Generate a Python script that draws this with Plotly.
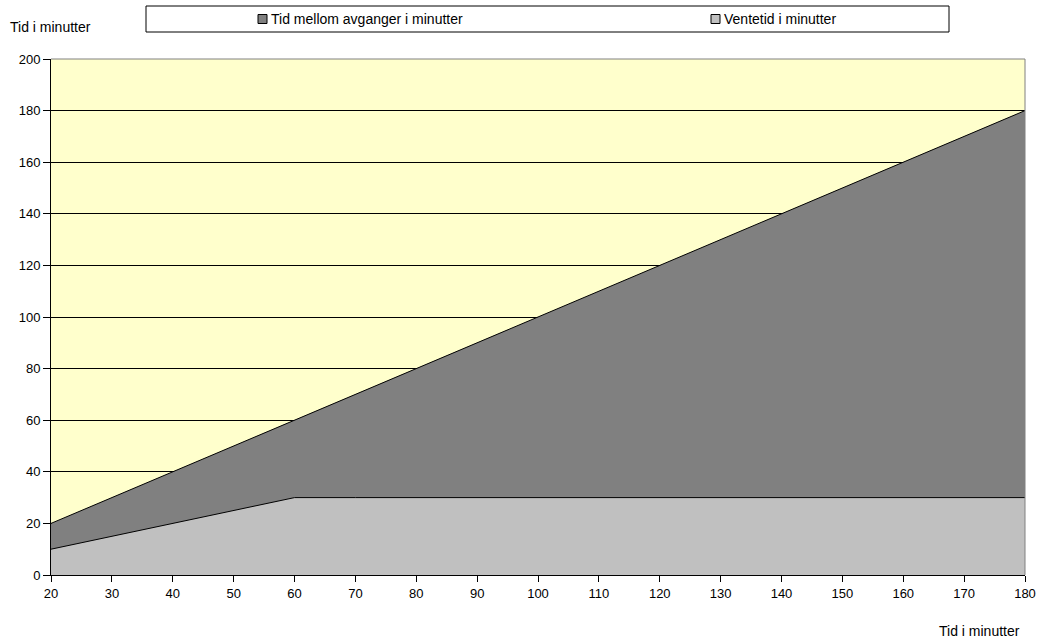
import plotly.graph_objects as go

# Minutes between departures (x axis) and the resulting series
minutes = [20, 30, 40, 50, 60, 70, 80, 90, 100, 110, 120, 130, 140, 150, 160, 170, 180]
tid_mellom = [20, 30, 40, 50, 60, 70, 80, 90, 100, 110, 120, 130, 140, 150, 160, 170, 180]
ventetid = [10, 15, 20, 25, 30, 30, 30, 30, 30, 30, 30, 30, 30, 30, 30, 30, 30]

name_dark = "Tid mellom avganger i minutter"
name_light = "Ventetid i minutter"
axis_title = "Tid i minutter"

FONT = "Liberation Sans, Arial, sans-serif"
W, H = 1038, 639
ML, MR, MT, MB = 51, 13, 59, 64

fig = go.Figure()
fig.add_trace(go.Scatter(
    x=minutes, y=tid_mellom, name=name_dark, mode="lines",
    fill="tozeroy", fillcolor="#808080",
    line=dict(color="black", width=1), showlegend=False,
))
fig.add_trace(go.Scatter(
    x=minutes, y=ventetid, name=name_light, mode="lines",
    fill="tozeroy", fillcolor="#C0C0C0",
    line=dict(color="black", width=1), showlegend=False,
))

fig.update_layout(
    width=W, height=H,
    margin=dict(l=ML, r=MR, t=MT, b=MB, pad=0),
    paper_bgcolor="white",
    plot_bgcolor="#FFFFCC",
    font=dict(family=FONT, size=13, color="black"),
    showlegend=False,
    xaxis=dict(
        range=[20, 180], tickmode="array", tickvals=minutes,
        showgrid=False, zeroline=False, automargin=False,
        showline=True, linecolor="black", linewidth=1,
        ticks="outside", ticklen=6, tickcolor="black",
        tickfont=dict(family=FONT, size=13),
    ),
    yaxis=dict(
        range=[0, 200], tickmode="array", tickvals=list(range(0, 201, 20)),
        showgrid=True, gridcolor="black", gridwidth=1, zeroline=False,
        automargin=False,
        showline=True, linecolor="black", linewidth=1,
        ticks="outside", ticklen=7, tickcolor="black",
        tickfont=dict(family=FONT, size=13),
    ),
)

# paper coordinates relative to the plot area, from pixel positions
pw, ph = W - ML - MR, H - MT - MB

def paper_x(px):
    return (px - ML) / pw

def paper_y(py):
    return (H - MB - py) / ph

shapes = [
    # gray frame on top/right of the plot area
    dict(type="line", xref="paper", yref="paper", x0=0, x1=1, y0=1, y1=1,
         line=dict(color="#808080", width=1), layer="above"),
    dict(type="line", xref="paper", yref="paper", x0=1, x1=1, y0=0, y1=1,
         line=dict(color="#808080", width=1), layer="above"),
]
annotations = []

# Legend box across the top
lx0, lx1, ly0, ly1 = 146, 949, 6, 32
shapes.append(dict(type="rect", xref="paper", yref="paper",
                   x0=paper_x(lx0), x1=paper_x(lx1), y0=paper_y(ly1), y1=paper_y(ly0),
                   line=dict(color="black", width=1), fillcolor="white", layer="above"))

for cx, color, label in [(263, "#808080", name_dark), (716, "#C0C0C0", name_light)]:
    shapes.append(dict(type="rect", xref="paper", yref="paper",
                       x0=paper_x(cx - 5), x1=paper_x(cx + 4),
                       y0=paper_y(23.5), y1=paper_y(14.5),
                       line=dict(color="black", width=1), fillcolor=color, layer="above"))
    annotations.append(dict(text=label, xref="paper", yref="paper",
                            x=paper_x(cx + 6), y=paper_y(19), xanchor="left", yanchor="middle",
                            showarrow=False, font=dict(family=FONT, size=14)))

annotations.append(dict(text=axis_title, xref="paper", yref="paper",
                        x=paper_x(8), y=paper_y(27), xanchor="left", yanchor="middle",
                        showarrow=False, font=dict(family=FONT, size=14)))
annotations.append(dict(text=axis_title, xref="paper", yref="paper",
                        x=paper_x(1022), y=paper_y(631), xanchor="right", yanchor="middle",
                        showarrow=False, font=dict(family=FONT, size=14)))

fig.update_layout(shapes=shapes, annotations=annotations)
fig.write_html("out.html")
